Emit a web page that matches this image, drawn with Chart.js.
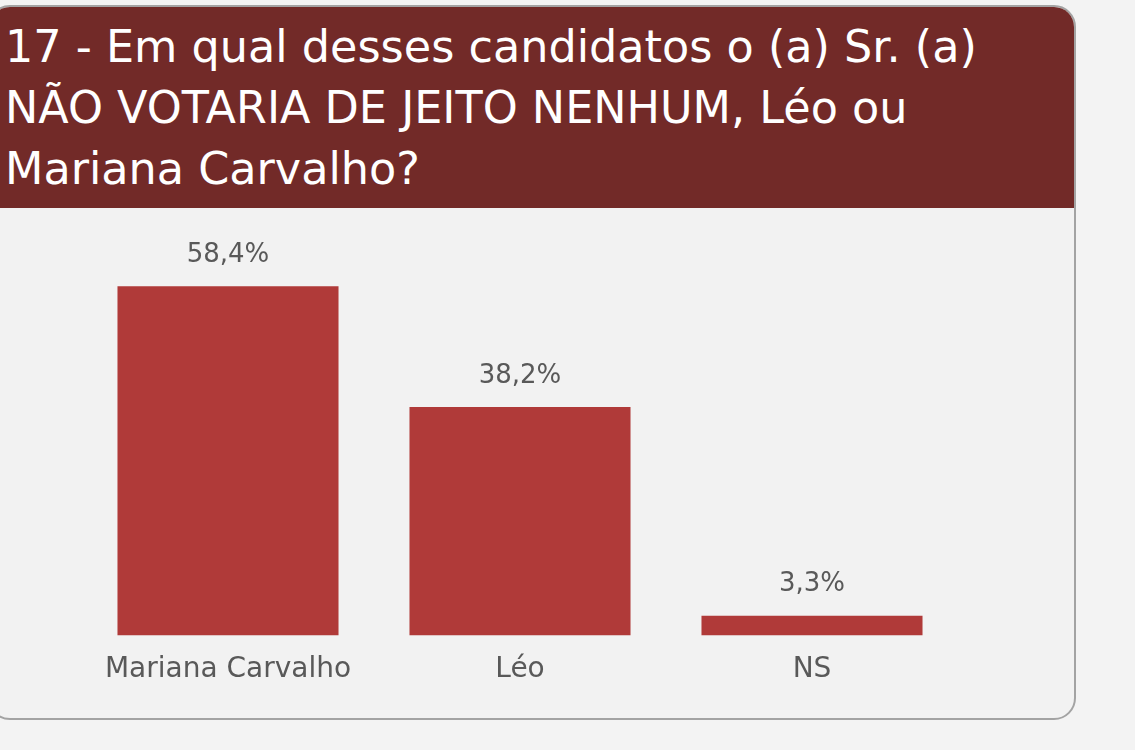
<!DOCTYPE html>
<html>
<head>
<meta charset="utf-8">
<script src="https://cdn.jsdelivr.net/npm/chart.js@4/dist/chart.umd.min.js"></script>
<style>
  html, body { margin: 0; padding: 0; background: #f3f3f3; width: 1135px; height: 750px; overflow: hidden; }
  #painel {
    position: absolute; left: -12px; top: 5px; width: 1084px; height: 711px;
    border: 2px solid #a3a3a3; border-radius: 22px; overflow: hidden; background: #f2f2f2;
  }
  #cabecalho {
    position: absolute; left: 0; top: 0; width: 100%; height: 201px; background: #722a28;
  }
  #titulo {
    position: absolute; left: 15px; top: 9px; margin: 0;
    font-family: "DejaVu Sans", sans-serif; font-weight: normal;
    font-size: 44.5px; line-height: 61px; color: #ffffff;
  }
  #grafico { position: absolute; left: 0; top: 208px; width: 1075px; height: 512px; }
</style>
</head>
<body>
<div id="painel">
  <div id="cabecalho">
    <h1 id="titulo">17 - Em qual desses candidatos o (a) Sr. (a)<br>NÃO VOTARIA DE JEITO NENHUM, Léo ou<br>Mariana Carvalho?</h1>
  </div>
</div>
<div id="grafico"><canvas id="myBarChart"></canvas></div>
<script>
const categorias = ['Mariana Carvalho', 'Léo', 'NS'];
const valores = [58.4, 38.2, 3.3];
const rotulos = ['58,4%', '38,2%', '3,3%'];

// escreve o percentual em cima de cada barra
const rotulosBarras = {
  id: 'rotulosBarras',
  afterDatasetsDraw(chart) {
    const ctx = chart.ctx;
    const meta = chart.getDatasetMeta(0);
    ctx.save();
    ctx.font = '26px "DejaVu Sans", sans-serif';
    ctx.fillStyle = '#595959';
    ctx.textAlign = 'center';
    ctx.textBaseline = 'middle';
    meta.data.forEach((barra, i) => {
      ctx.fillText(rotulos[i], barra.x, barra.y - 31);
    });
    ctx.restore();
  }
};

var ctx = document.getElementById('myBarChart').getContext('2d');
var myBarChart = new Chart(ctx, {
  type: 'bar',
  data: {
    labels: categorias,
    datasets: [{
      label: 'Não votaria',
      data: valores,
      backgroundColor: '#b03a39',
      borderWidth: 0,
      barPercentage: 0.757,
      categoryPercentage: 1
    }]
  },
  options: {
    responsive: true,
    maintainAspectRatio: false,
    animation: false,
    layout: { padding: { left: 82, right: 117, top: 21, bottom: 15 } },
    scales: {
      x: {
        grid: { display: false, drawTicks: false },
        border: { display: false },
        ticks: {
          padding: 18,
          color: '#595959',
          font: { family: '"DejaVu Sans", sans-serif', size: 28 }
        }
      },
      y: { display: false, min: 0, max: 68 }
    },
    plugins: {
      legend: { display: false },
      tooltip: { enabled: false }
    }
  },
  plugins: [rotulosBarras]
});
</script>
</body>
</html>
